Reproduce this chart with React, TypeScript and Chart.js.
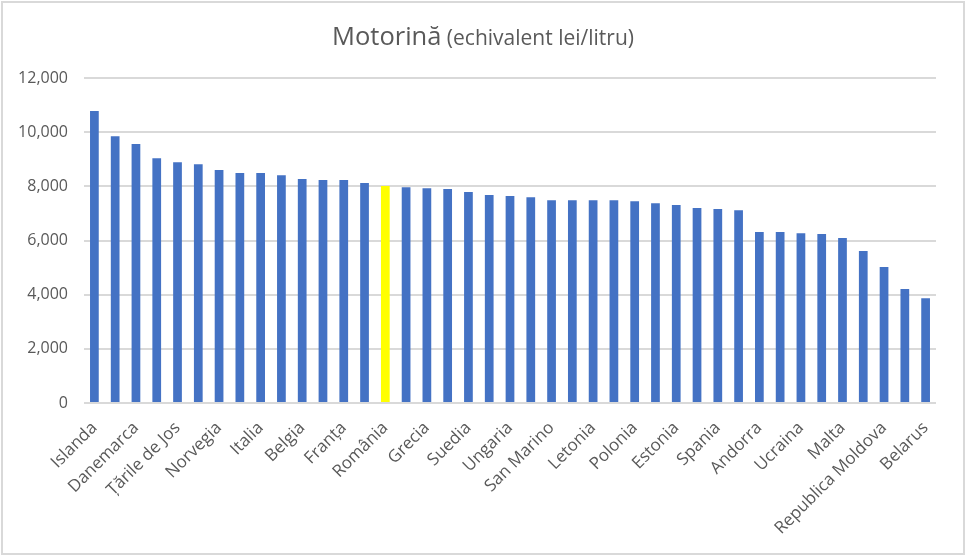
import React, { useEffect, useRef } from "react";
import { Chart, registerables } from "chart.js";

Chart.register(...registerables);

const countries: string[] = [
  "Islanda", "Elveția", "Danemarca", "Finlanda", "Țările de Jos", "Germania",
  "Norvegia", "Irlanda", "Italia", "Liechtenstein", "Belgia", "Portugalia",
  "Franța", "Austria", "România", "Slovenia", "Grecia", "Croația", "Suedia",
  "Luxemburg", "Ungaria", "Cehia", "San Marino", "Albania", "Letonia",
  "Lituania", "Polonia", "Slovacia", "Estonia", "Cipru", "Spania", "Bulgaria",
  "Andorra", "Serbia", "Ucraina", "Muntenegru", "Malta", "Macedonia de Nord",
  "Republica Moldova", "Rusia", "Belarus",
];

const dieselPrice: number[] = [
  10.78, 9.85, 9.56, 9.04, 8.89, 8.82, 8.6, 8.49, 8.49, 8.41, 8.27, 8.23,
  8.23, 8.12, 8.01, 7.97, 7.93, 7.9, 7.79, 7.68, 7.64, 7.6, 7.49, 7.49, 7.49,
  7.49, 7.45, 7.38, 7.31, 7.2, 7.16, 7.12, 6.31, 6.31, 6.27, 6.24, 6.09, 5.61,
  5.02, 4.21, 3.87,
];

const highlighted = "România";
const titleMain = "Motorină";
const titleSub = " (echivalent lei/litru)";

const FONT = "'Open Sans', 'Noto Sans', sans-serif";
const GRAY = "#595959";

const titlePlugin = {
  id: "mixedTitle",
  afterDraw(chart: any) {
    const ctx = chart.ctx as CanvasRenderingContext2D;
    ctx.save();
    ctx.fillStyle = GRAY;
    ctx.textBaseline = "alphabetic";
    ctx.font = `25.5px ${FONT}`;
    const w1 = ctx.measureText(titleMain).width;
    ctx.font = `21px ${FONT}`;
    const w2 = ctx.measureText(titleSub).width;
    const x0 = chart.width / 2 - (w1 + w2) / 2;
    ctx.textAlign = "left";
    ctx.font = `25.5px ${FONT}`;
    ctx.fillText(titleMain, x0, 45);
    ctx.font = `21px ${FONT}`;
    ctx.fillText(titleSub, x0 + w1, 45);
    ctx.strokeStyle = "#d9d9d9";
    ctx.lineWidth = 2;
    ctx.strokeRect(2, 2, chart.width - 4, chart.height - 3);
    ctx.restore();
  },
};

export default function App() {
  const ref = useRef<HTMLCanvasElement | null>(null);
  useEffect(() => {
    document.body.style.margin = "0";
    if (!ref.current) return;
    const chart = new Chart(ref.current, {
      type: "bar",
      data: {
        labels: countries,
        datasets: [
          {
            data: dieselPrice,
            backgroundColor: countries.map((c) => (c === highlighted ? "#FFFF00" : "#4472C4")),
            categoryPercentage: 1,
            barPercentage: 0.42,
          },
        ],
      },
      options: {
        animation: false,
        responsive: false,
        layout: { padding: { top: 78, left: 0, right: 30, bottom: 0 } },
        plugins: { legend: { display: false }, title: { display: false }, tooltip: { enabled: false } },
        scales: {
          x: {
            grid: { display: false, drawTicks: false },
            border: { display: false },
            ticks: {
              autoSkip: false,
              minRotation: 45,
              maxRotation: 45,
              padding: 15,
              color: GRAY,
              font: { family: FONT, size: 17 },
              callback: (_v: any, i: number) => (i % 2 === 0 ? countries[i] : ""),
            },
            afterFit: (s: any) => {
              s.height = 152;
            },
          },
          y: {
            min: 0,
            max: 12,
            ticks: {
              stepSize: 2,
              padding: 16,
              color: GRAY,
              font: { family: FONT, size: 16 },
              callback: (v: any) => (Number(v) === 0 ? "0" : Number(v).toFixed(3).replace(".", ",")),
            },
            grid: { color: "#d9d9d9", lineWidth: 2, drawTicks: false },
            border: { display: false },
            afterFit: (s: any) => {
              s.width = 84;
            },
          },
        },
      },
      plugins: [titlePlugin],
    });
    return () => chart.destroy();
  }, []);
  return (
    <div style={{ width: 966, height: 555 }}>
      <canvas ref={ref} width={966} height={555} style={{ display: "block" }} />
    </div>
  );
}
